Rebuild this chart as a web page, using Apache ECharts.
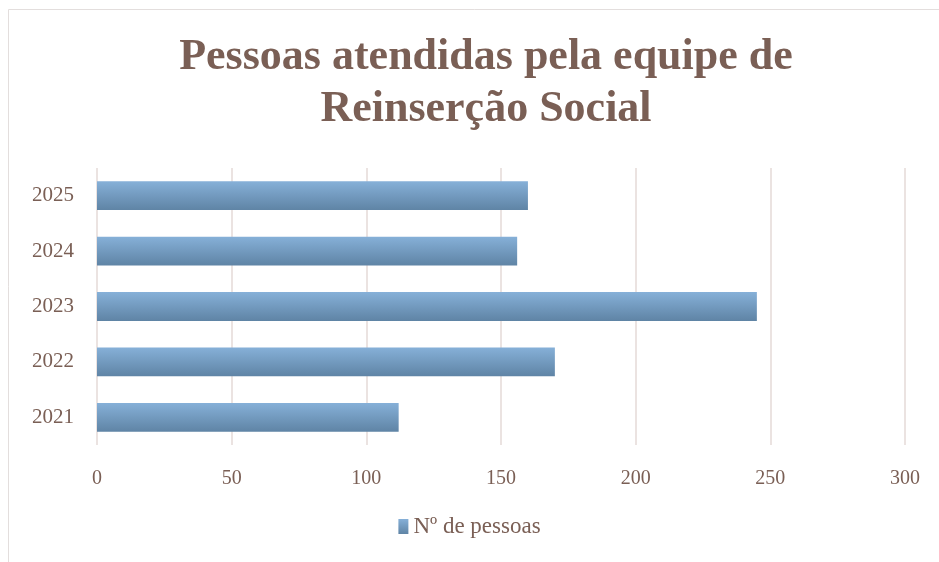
<!DOCTYPE html>
<html>
<head>
<meta charset="utf-8">
<script src="https://cdn.jsdelivr.net/npm/echarts@6/dist/echarts.min.js"></script>
<style>
  html, body { margin: 0; padding: 0; background: #fff; }
  #main { width: 939px; height: 562px; }
</style>
</head>
<body>
<div id="main"></div>
<script>
var years = ['2021', '2022', '2023', '2024', '2025'];
var pessoas = [112, 170, 245, 156, 160];
var xTicks = { min: 0, max: 300, interval: 50 };

var brown = '#7a5f55';
var myChart = echarts.init(document.getElementById('main'));

var option = {
    title: {
        text: 'Pessoas atendidas pela equipe de\nReinserção Social',
        left: 481,
        top: 27,
        textAlign: 'center',
        textStyle: {
            fontFamily: 'Liberation Serif',
            fontWeight: 'bold',
            fontSize: 44,
            lineHeight: 52,
            color: brown
        }
    },
    graphic: [{
        type: 'rect',
        shape: { x: 8.5, y: 9.5, width: 960, height: 600 },
        style: { fill: 'none', stroke: '#e3dedd', lineWidth: 1 },
        silent: true,
        z: -1
    }],
    legend: {
        data: ['Nº de pessoas'],
        bottom: 19,
        left: 'center',
        icon: 'rect',
        itemWidth: 10,
        itemHeight: 15,
        itemGap: 4,
        textStyle: { fontFamily: 'Liberation Serif', fontSize: 23, color: brown }
    },
    grid: {
        left: 97,
        right: 34,
        top: 168,
        bottom: 117
    },
    xAxis: {
        type: 'value',
        min: xTicks.min,
        max: xTicks.max,
        interval: xTicks.interval,
        axisLine: { show: false },
        axisTick: { show: false },
        axisLabel: {
            margin: 24,
            fontFamily: 'Liberation Serif',
            fontSize: 20,
            color: brown
        },
        splitLine: { lineStyle: { color: '#ebe3e1', width: 2 } }
    },
    yAxis: {
        type: 'category',
        data: years,
        axisLine: { show: false },
        axisTick: { show: false },
        axisLabel: {
            margin: 23,
            fontFamily: 'Liberation Serif',
            fontSize: 21,
            color: brown
        }
    },
    series: [{
        name: 'Nº de pessoas',
        type: 'bar',
        barWidth: '52%',
        data: pessoas,
        itemStyle: {
            color: new echarts.graphic.LinearGradient(0, 0, 0, 1, [
                { offset: 0, color: '#86b0d8' },
                { offset: 1, color: '#5f84a5' }
            ]),
            shadowColor: 'rgba(0,0,0,0.32)',
            shadowBlur: 6,
            shadowOffsetX: 2,
            shadowOffsetY: 4
        }
    }]
};

myChart.setOption(option);
</script>
</body>
</html>
